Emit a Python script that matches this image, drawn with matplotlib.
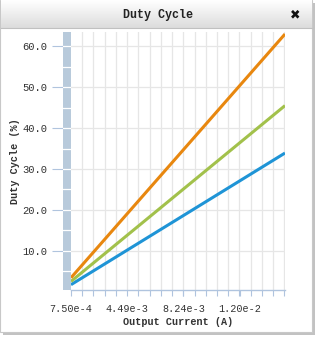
import matplotlib
matplotlib.use('Agg')
from matplotlib import pyplot as plt
from matplotlib.patches import Rectangle
import numpy as np

W, H = 334, 341

# data
current = [7.5e-4, 0.015]
duty_orange = [3.4, 63.0]
duty_green = [2.5, 45.5]
duty_blue = [1.7, 33.9]

x_ticks = [7.5e-4, 4.49e-3, 8.24e-3, 1.199e-2]
x_tick_labels = ['7.50e-4', '4.49e-3', '8.24e-3', '1.20e-2']
y_ticks = [10, 20, 30, 40, 50, 60]
y_tick_labels = ['10.0', '20.0', '30.0', '40.0', '50.0', '60.0']

x_min, x_max = 7.5e-4, 0.015
y_min, y_max = 0.4, 63.5

FONT = 'Liberation Mono'
TXT = '#333333'


def px_box(x0, y0, x1, y1):
    """pixel box (top-left origin) -> figure fraction rect"""
    return [x0 / W, 1 - y1 / H, (x1 - x0) / W, (y1 - y0) / H]


fig = plt.figure(figsize=(W / 100, H / 100), dpi=100)
fig.patch.set_facecolor('white')

# panel with shadow
bg = fig.add_axes([0, 0, 1, 1])
bg.axis('off')
bg.add_patch(Rectangle((3, 3), 312, 332, facecolor='#9a9a9a', edgecolor='none', alpha=0.6))
bg.add_patch(Rectangle((0, 0), 312, 332, facecolor='white', edgecolor='#c8c8c8', lw=0.8))
# title bar gradient
grad = np.linspace(1.0, 0.86, 50).reshape(-1, 1)
bg.imshow(grad, extent=(0.5, 311.5, 28, 0.5), cmap='gray', vmin=0, vmax=1,
          aspect='auto', zorder=2)
bg.plot([0.5, 311.5], [28, 28], color='#c0c0c0', lw=0.8, zorder=3)
bg.text(158, 15, 'Duty Cycle', ha='center', va='center', family=FONT,
        fontsize=8.4, fontweight='bold', color='#222222', zorder=4)
bg.text(295, 15, '\u2716', ha='center', va='center', family='DejaVu Sans',
        fontsize=9, color='#111111', zorder=4)
bg.set_xlim(0, W)
bg.set_ylim(H, 0)

# blue bar at left of plot
bar = fig.add_axes(px_box(63, 32, 71, 290))
bar.set_facecolor('#b8cadb')
bar.set_xlim(0, 1)
bar.set_ylim(y_min, y_max)
for v in np.arange(5, 65, 5):
    bar.axhline(v, color='white', lw=0.9)
bar.set_xticks([])
bar.set_yticks(y_ticks)
bar.set_yticklabels(y_tick_labels, family=FONT, fontsize=7.6, color=TXT)
bar.tick_params(axis='y', length=8, width=0.8, color='#b0c4de', pad=3)
for s in bar.spines.values():
    s.set_visible(False)
bar.set_ylabel('Duty Cycle (%)', family=FONT, fontsize=7.3, fontweight='bold',
               color=TXT, labelpad=2)

# main plot
ax = fig.add_axes(px_box(71, 32, 285, 290))
ax.set_xlim(x_min, x_max)
ax.set_ylim(y_min, y_max)
minor_x = np.arange(x_min, x_max + 1e-9, (x_ticks[1] - x_ticks[0]) / 5)
for v in minor_x[1:]:
    ax.axvline(v, color='#e6e6e6', lw=0.9, zorder=0)
for v in y_ticks:
    ax.axhline(v, color='#e6e6e6', lw=0.9, zorder=0)

ax.plot(current, duty_blue, color='#1f94d6', lw=2.2, solid_capstyle='butt')
ax.plot(current, duty_green, color='#a2c14b', lw=2.2, solid_capstyle='butt')
ax.plot(current, duty_orange, color='#e8870f', lw=2.2, solid_capstyle='butt')

ax.set_yticks([])
ax.set_xticks(x_ticks)
ax.set_xticklabels(x_tick_labels, family=FONT, fontsize=7.3, color=TXT)
ax.set_xticks(minor_x, minor=True)
ax.tick_params(axis='x', which='both', length=4, width=0.8, color='#b0c4de', pad=6)
for k in ['top', 'right', 'left']:
    ax.spines[k].set_visible(False)
ax.spines['bottom'].set_color('#b0c4de')
ax.spines['bottom'].set_linewidth(1.0)
ax.set_xlabel('Output Current (A)', family=FONT, fontsize=7.3, fontweight='bold',
              color=TXT, labelpad=2)

fig.savefig('out.png', dpi=100)
